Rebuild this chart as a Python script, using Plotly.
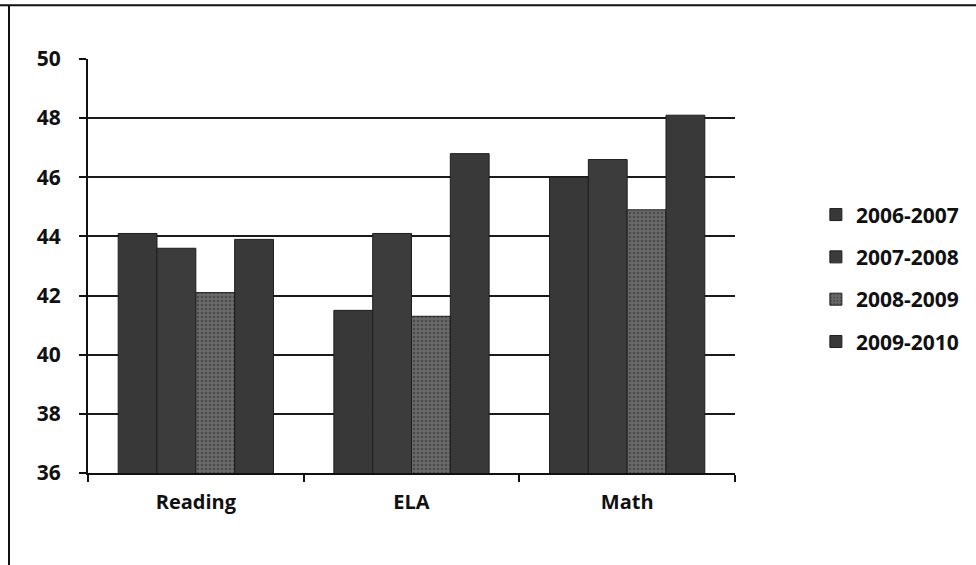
import plotly.graph_objects as go

# -- data
subjects = ["Reading", "ELA", "Math"]
years = ["2006-2007", "2007-2008", "2008-2009", "2009-2010"]
scores_0607 = [44.1, 41.5, 46.0]
scores_0708 = [43.6, 44.1, 46.6]
scores_0809 = [42.1, 41.3, 44.9]
scores_0910 = [43.9, 46.8, 48.1]
y_ticks = [36, 38, 40, 42, 44, 46, 48, 50]

series = [scores_0607, scores_0708, scores_0809, scores_0910]
fills = ["#383838", "#3c3c3c", "#5e5e5e", "#393939"]

FONT = "Open Sans"

fig = go.Figure()
for i, (name, vals) in enumerate(zip(years, series)):
    marker = dict(color=fills[i], line=dict(color="#1e1e1e", width=1))
    if i == 2:
        # stippled look of the scanned third series
        marker["pattern"] = dict(shape=".", fgcolor="#2a2a2a", bgcolor="#6a6a6a",
                                 size=4, solidity=0.35)
    fig.add_trace(go.Bar(x=subjects, y=vals, name=name, marker=marker,
                         legendgroup=name))

# frame of the scan: only the top and left edges show
# (paper coords, plot area is 88..735 x 59..473 px)
frame = dict(color="#111", width=2)
fig.add_shape(type="line", xref="paper", yref="paper",
              x0=-0.14, x1=1.38, y0=1.13, y1=1.13, line=frame)
fig.add_shape(type="line", xref="paper", yref="paper",
              x0=-0.1221, x1=-0.1221, y0=1.13, y1=-0.23, line=frame)

fig.update_layout(
    width=976, height=565,
    margin=dict(l=88, r=241, t=59, b=92, autoexpand=False),
    paper_bgcolor="white", plot_bgcolor="white",
    barmode="group", bargap=0.28, bargroupgap=0.0,
    font=dict(family=FONT, color="#111"),
    showlegend=True,
    legend=dict(x=1.125, y=0.47, xanchor="left", yanchor="middle",
                font=dict(family=FONT, size=21, color="#111", weight="bold"),
                tracegroupgap=12, itemwidth=30, bgcolor="rgba(0,0,0,0)"),
)
fig.update_yaxes(range=[36, 50], tickvals=y_ticks, showgrid=True,
                 gridcolor="#1a1a1a", gridwidth=2,
                 showline=True, linecolor="#111", linewidth=2,
                 ticks="outside", ticklen=7, tickcolor="#111", tickwidth=2,
                 ticklabelstandoff=14,
                 tickfont=dict(family=FONT, size=21, color="#111", weight="bold"),
                 zeroline=False)
fig.update_xaxes(showline=True, linecolor="#111", linewidth=2,
                 ticks="outside", tickson="boundaries", ticklen=7,
                 tickcolor="#111", tickwidth=2, ticklabelstandoff=10,
                 tickfont=dict(family=FONT, size=20, color="#111", weight="bold"))

fig.write_html("out.html", config={"displayModeBar": False},
               post_script="document.body.style.margin='0';")
